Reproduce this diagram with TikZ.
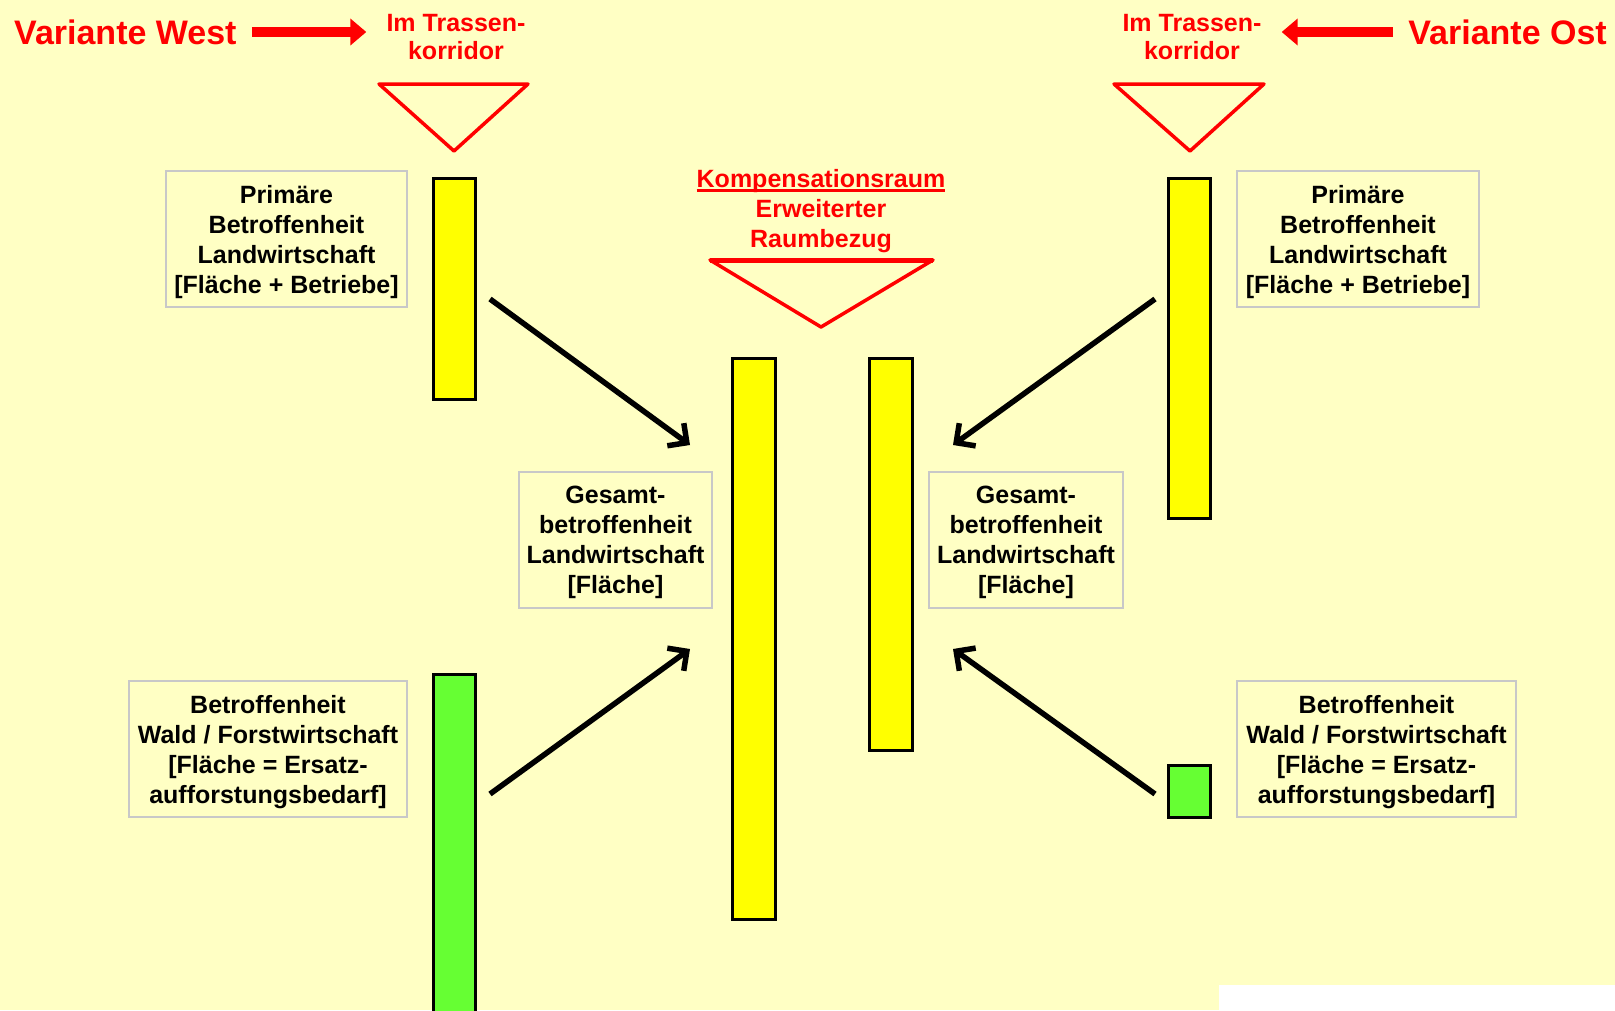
\documentclass[tikz,border=0pt]{standalone}
\usepackage{fontspec}
\setmainfont{Liberation Sans}
\setsansfont{Liberation Sans}
\usepackage{xcolor}
\usepackage{tikz}
\usetikzlibrary{arrows.meta}
\definecolor{bgyellow}{RGB}{255,255,196}
\definecolor{baryellow}{RGB}{255,255,0}
\definecolor{bargreen}{RGB}{102,255,51}
\definecolor{boxgray}{RGB}{200,200,200}
\newcommand{\redunderline}[1]{\setbox0\hbox{#1}\rlap{\color{red}\rule[-4pt]{\wd0}{2.5pt}}\box0}
\tikzset{
  infobox/.style={draw=boxgray,line width=2pt,align=center,inner sep=0pt,text depth=0pt,
    minimum height=136pt,font=\bfseries\fontsize{25}{30}\selectfont},
  yellowbar/.style={draw=black,line width=3pt,fill=baryellow,minimum width=42pt,inner sep=0pt},
  greenbar/.style={yellowbar,fill=bargreen},
  redlabel/.style={text=red,align=center,inner sep=0pt,font=\bfseries\fontsize{25}{28}\selectfont},
  variantlabel/.style={text=red,inner sep=0pt,font=\bfseries\fontsize{34}{38}\selectfont},
  redarrow/.style={-{Triangle[length=16pt,width=26pt]},line width=10pt,draw=red},
  blackarrow/.style={-{Straight Barb[length=14pt,width=28pt]},line width=5.5pt},
  corridor/.style={draw=red,line width=3.5pt,line join=round}
}
\begin{document}
\begin{tikzpicture}[x=1pt,y=-1pt]
  \fill[bgyellow] (0,0) rectangle (1615,1010);
  \fill[white] (1219,985) rectangle (1615,1010);
  \useasboundingbox (0,0) rectangle (1615,1010);

  \node[variantlabel,anchor=west] (varW) at (14,32) {Variante West};
  \node[redlabel] (trW) at (456,37) {Im Trassen-\\korridor};
  \node[redlabel] (trO) at (1192,37) {Im Trassen-\\korridor};
  \node[variantlabel,anchor=east] (varO) at (1607,32) {Variante Ost};
  \draw[redarrow,shorten <=15pt,shorten >=20pt] (varW.east) -- (varW.east -| trW.west);
  \draw[redarrow,shorten <=15pt,shorten >=20pt] (varO.west) -- (varO.west -| trO.east);

  \draw[corridor] (379,84) -- (528,84) -- (454,151) -- cycle;
  \draw[corridor] (1114,84) -- (1264,84) -- (1190,151) -- cycle;
  \node[redlabel,font=\bfseries\fontsize{25}{30}\selectfont] (komp) at (821,211.5)
    {\redunderline{Kompensationsraum}\\Erweiterter\\Raumbezug};
  \draw[corridor] (710,260) -- (933,260) -- (821,327) -- cycle;
  \draw[red,line width=5pt] (710,260) -- (933,260);

  \node[yellowbar,minimum height=221pt] (barWtop) at (454,288.5) {};
  \node[greenbar,minimum height=342pt] (barWlow) at (454,845) {};
  \node[yellowbar,minimum width=43pt,minimum height=561pt] (barMidA) at (753.5,638.5) {};
  \node[yellowbar,minimum width=43pt,minimum height=392pt] (barMidB) at (890.5,554) {};
  \node[yellowbar,minimum height=340pt] (barOtop) at (1189,348) {};
  \node[greenbar,minimum height=52pt] (barOlow) at (1189,791) {};

  \node[infobox,minimum width=241pt] (primW) at (286.5,239)
    {Primäre\\Betroffenheit\\Landwirtschaft\\{}[Fläche + Betriebe]};
  \node[infobox,minimum width=242pt] (primO) at (1358,239)
    {Primäre\\Betroffenheit\\Landwirtschaft\\{}[Fläche + Betriebe]};
  \node[infobox,minimum width=193pt] (gesW) at (615.5,539.5)
    {Gesamt-\\betroffenheit\\Landwirtschaft\\{}[Fläche]};
  \node[infobox,minimum width=194pt] (gesO) at (1026,539.5)
    {Gesamt-\\betroffenheit\\Landwirtschaft\\{}[Fläche]};
  \node[infobox,minimum width=278pt] (waldW) at (268,749)
    {Betroffenheit\\Wald / Forstwirtschaft\\{}[Fläche = Ersatz-\\aufforstungsbedarf]};
  \node[infobox,minimum width=279pt] (waldO) at (1376.5,749)
    {Betroffenheit\\Wald / Forstwirtschaft\\{}[Fläche = Ersatz-\\aufforstungsbedarf]};

  \coordinate (wTopStart) at (490,299);
  \coordinate (wTopEnd) at (690,445);
  \coordinate (wLowStart) at (490,794);
  \coordinate (wLowEnd) at (690,649);
  \coordinate (oTopStart) at (1155,299);
  \coordinate (oTopEnd) at (953,445);
  \coordinate (oLowStart) at (1155,794);
  \coordinate (oLowEnd) at (953,649);
  \draw[blackarrow] (wTopStart) -- (wTopEnd);
  \draw[blackarrow] (wLowStart) -- (wLowEnd);
  \draw[blackarrow] (oTopStart) -- (oTopEnd);
  \draw[blackarrow] (oLowStart) -- (oLowEnd);
\end{tikzpicture}
\end{document}
